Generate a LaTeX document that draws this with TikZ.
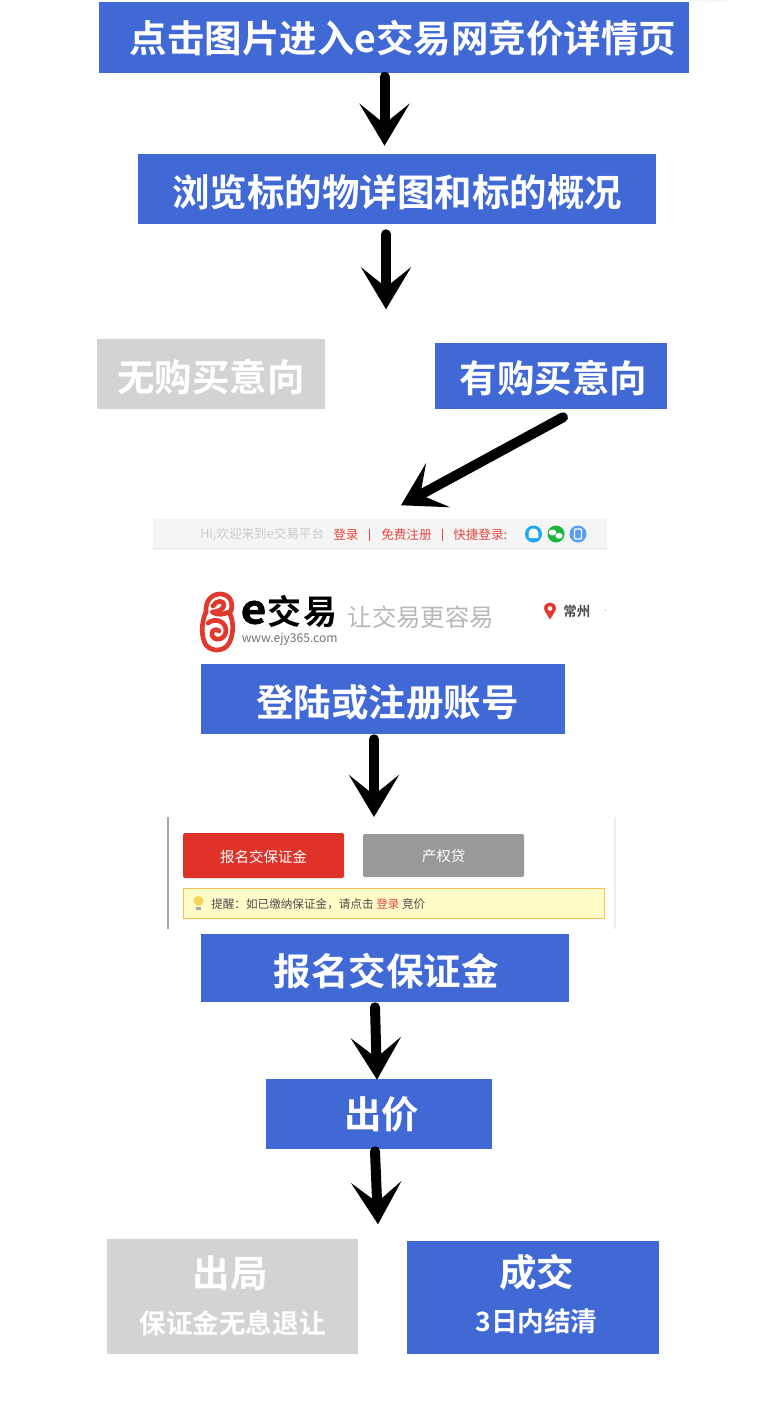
\documentclass[tikz,border=0pt]{standalone}
\usepackage{fontspec}
\setmainfont{Noto Sans CJK SC}[BoldFont={Noto Sans CJK SC Bold}]
\newfontfamily\heavyfont[FakeBold=1.5]{Noto Sans CJK SC Bold}
\usetikzlibrary{arrows.meta,calc}
\newdimen\px \px=0.75pt
\newcommand{\fs}[1]{\fontsize{#1\px}{#1\px}\selectfont}
\newcommand{\dn}[2]{\raisebox{-#1\px}[\height][\depth]{#2}}
\newcommand{\upby}[2]{\raisebox{#1\px}[\height][\depth]{#2}}
\definecolor{boxblue}{HTML}{4169D6}
\definecolor{boxgrey}{HTML}{D3D3D3}
\definecolor{linkred}{HTML}{E2483F}
\definecolor{logored}{HTML}{E03A2E}
\definecolor{btnred}{HTML}{DF3329}
\definecolor{qqblue}{HTML}{18A8F5}
\definecolor{wxgreen}{HTML}{1DB33F}
\definecolor{phoneblue}{HTML}{5A9EF0}
\definecolor{tipfill}{HTML}{FFFCC8}
\definecolor{tipline}{HTML}{F8C050}
\definecolor{bulb}{HTML}{F6D45A}
\tikzset{
  flowbox/.style={rectangle,inner sep=0pt,text=white,font=\fs{37.5}\bfseries,align=center},
  bluebox/.style={flowbox,fill=boxblue},
  greybox/.style={flowbox,fill=boxgrey},
  flowarrow/.style={line width=7.5pt,line cap=round,-{Stealth[length=31.5pt,width=37.5pt,inset=15pt]}},
  small/.style={inner sep=0pt,anchor=west},
  btn/.style={rectangle,rounded corners=1.5pt,inner sep=0pt,text=white,font=\fs{14.5}},
  swirl/.style={draw=logored,line width=3.5pt,line cap=round,line join=round},
}
\begin{document}
\begin{tikzpicture}[x=0.75pt,y=-0.75pt]
\useasboundingbox (0,0) rectangle (780,1404);
\fill[white] (0,0) rectangle (780,1404);
\fill[black!3] (690,0) .. controls (700,2.5) and (720,2.5) .. (732,0) -- cycle;

% flow boxes
\node[bluebox,minimum width=590\px,minimum height=71\px] (b1) at (394,37.5) {\hspace{18\px}\dn{1}{点击图片进入e交易网竞价详情页}};
\node[bluebox,minimum width=518\px,minimum height=70\px] (b2) at (397,189) {\dn{3}{浏览标的物详图和标的概况}};
\node[greybox,minimum width=228\px,minimum height=70\px] (no) at (211,374) {\dn{3}{无购买意向}};
\node[bluebox,minimum width=232\px,minimum height=66\px] (yes) at (551,376) {\hspace{5\px}\dn{2}{有购买意向}};
\node[bluebox,minimum width=364\px,minimum height=70\px] (login) at (383,699) {\hspace{9\px}\dn{3}{登陆或注册账号}};
\node[bluebox,minimum width=368\px,minimum height=68\px] (pay) at (385,968) {\hspace{2\px}\dn{3}{报名交保证金}};
\node[bluebox,minimum width=226\px,minimum height=70\px] (bid) at (379,1114) {\hspace{5\px}出价};
\node[greybox,minimum width=251\px,minimum height=115\px] (out) at (232.5,1296.5)
  {\hspace{-5\px}\upby{1}{出局}\\[7\px]{\fs{26.6}保证金无息退让}};
\node[bluebox,minimum width=252\px,minimum height=113\px] (deal) at (533,1297.5)
  {\hspace{7\px}\upby{4}{成交}\\[7\px]{\fs{26.6}\hspace{7\px}\upby{3}{3日内结清}}};

% top bar of the site
\fill[black!4] (153,519) rectangle (607,548);
\draw[black!11,line width=0.9pt] (153,548.5) -- (607,548.5);
\node[small,text=black!20,font=\fs{12.6}] (hi) at (200,534.5) {Hi,欢迎来到e交易平台};
\node[small,text=linkred,font=\fs{12.6}] (l1) at (333,534.5) {登录};
\fill[linkred] (368.6,529) rectangle (369.6,541);
\node[small,text=linkred,font=\fs{12.6}] (l2) at (381,534.5) {免费注册};
\fill[linkred] (442,529) rectangle (443,541);
\node[small,text=linkred,font=\fs{12.6}] (l3) at (453,534.5) {快捷登录:};
\fill[qqblue] (533.5,534) circle (8.5);
\fill[white] (529,538) .. controls (527.5,531) and (530,528.5) .. (533.5,528.5) .. controls (537,528.5) and (539.5,531) .. (538,538) -- cycle;
\fill[wxgreen] (556,534) circle (8.5);
\fill[white] (552.5,532.5) ellipse (3.8 and 3);
\fill[white] (559,535.8) ellipse (3.6 and 2.9);
\fill[phoneblue] (578,534) circle (8.5);
\draw[white,line width=0.9pt,rounded corners=0.8pt] (574.5,529) rectangle (581.5,539);

% logo
\draw[swirl] (231,611) .. controls (234,600) and (228,594) .. (220,594) .. controls (211,594) and (205,602) .. (206,612);
\draw[swirl] (213,606) .. controls (216,600) and (224,600) .. (224,605) .. controls (224,610) and (216,612) .. (212,612) .. controls (218,616) and (224,614) .. (229,612);
\draw[swirl] (206,612) .. controls (201,622) and (201,638) .. (206,645) .. controls (212,652) and (222,651) .. (227,646) .. controls (234,638) and (234,622) .. (230,614);
\draw[swirl] (208,623) .. controls (214,618) and (225,620) .. (226,630) .. controls (226,640) and (214,642) .. (212,635) .. controls (211,630) and (216,628) .. (219,631);
\node[small,text=black,font=\fs{40}\heavyfont] (lge) at (240.5,612.5) {\scalebox{1.1}[1]{e}};
\node[small,text=black,font=\fs{34}\bfseries] (lgt) at (267,611.5) {交\hspace{2\px}易};
\node[small,text=black!55,font=\fs{12.1}] (lgu) at (241.5,639) {www.ejy365.com};
\node[small,text=black!28,font=\fs{24.4}] (lgs) at (347.5,617) {让交易更容易};
\fill[logored] (550,619.5) .. controls (546,613) and (544,610) .. (544,608.5)
  .. controls (544,600.5) and (556,600.5) .. (556,608.5) .. controls (556,610) and (554,613) .. (550,619.5) -- cycle;
\fill[white] (550,608.5) circle (2.3);
\node[small,text=black!70,font=\fs{13.5}\bfseries] (city) at (563,611) {常州};
\fill[black!30] (605.5,610.5) circle (0.6);

% bid panel
\draw[black!35,line width=1pt] (168,817) -- (168,929);
\draw[black!7,line width=1pt] (615,817) -- (615,929);
\node[btn,fill=btnred,minimum width=161\px,minimum height=45\px] (btnr) at (263.5,855.5) {\dn{1}{报名交保证金}};
\node[btn,fill=black!40,minimum width=161\px,minimum height=43\px] (btng) at (443.5,855.5) {\dn{1}{产权贷}};
\node[rectangle,draw=tipline,fill=tipfill,line width=0.75pt,inner sep=0pt,minimum width=421\px,minimum height=30\px] (tip) at (393.5,903.5) {};
\fill[bulb] (198.5,901) circle (5);
\fill[black!35] (196,906.5) rectangle (201,910);
\node[small,text=black!70,font=\fs{11.6}] (tiptext) at (211,904.5) {提醒：如已缴纳保证金，请点击 \textcolor{linkred}{登录} 竞价};

% arrows
\coordinate (panel) at (374,817);
\draw[flowarrow] ($(b1.south)+(-9.5,3.5)$) -- ($(b2.north)+(-12.5,-8)$);
\draw[flowarrow] ($(b2.south)+(-11,10)$) -- ($(b2.south)+(-11,85)$);
\draw[flowarrow] ($(yes.south)+(12,8)$) -- ($(yes.south)+(-150,96)$);
\draw[flowarrow] ($(login.south)+(-9,5)$) -- (panel);
\draw[flowarrow] ($(pay.south)+(-10,5)$) -- ($(bid.north)+(-2,1)$);
\draw[flowarrow] ($(bid.south)+(-4,2)$) -- ($(bid.south)+(-1,75)$);
\end{tikzpicture}
\end{document}
